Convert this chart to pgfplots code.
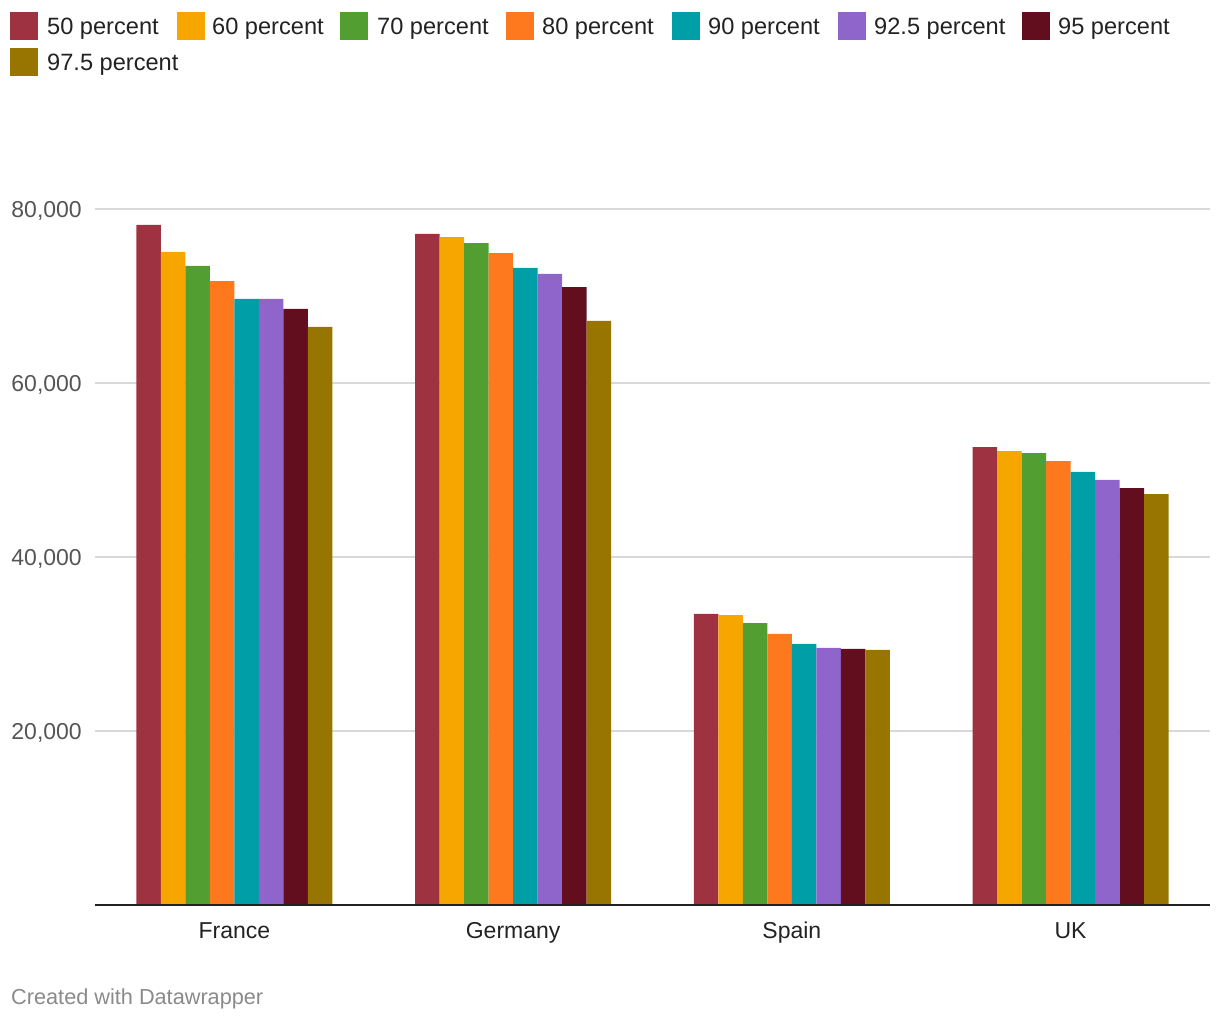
\documentclass[border=0pt]{standalone}
\usepackage{pgfplots}
\usepackage{pgfplotstable}
\pgfplotsset{compat=1.18}
\usepackage{fontspec}
\setmainfont{Liberation Sans}
\definecolor{cA}{RGB}{158,50,64}
\definecolor{cB}{RGB}{247,166,0}
\definecolor{cC}{RGB}{82,158,49}
\definecolor{cD}{RGB}{254,120,30}
\definecolor{cE}{RGB}{0,158,167}
\definecolor{cF}{RGB}{144,101,203}
\definecolor{cG}{RGB}{98,14,30}
\definecolor{cH}{RGB}{151,117,0}
\definecolor{gridgray}{RGB}{217,217,217}
\definecolor{ticklab}{RGB}{85,85,85}
\definecolor{txt}{RGB}{34,34,34}
\definecolor{foot}{RGB}{138,138,138}
\pgfplotstableread{
x p50 p60 p70 p80 p90 p925 p95 p975
0 78160 75060 73450 71700 69660 69660 68510 66440
1 77130 76780 76090 74940 73220 72530 71030 67130
2 33450 33330 32410 31150 30000 29540 29430 29310
3 52640 52180 51950 51030 49770 48850 47930 47240
}\datatable
\begin{document}
\begin{tikzpicture}
\path[use as bounding box] (0,0) rectangle (1220bp,1020bp);
\begin{axis}[
  at={(95bp,115bp)}, anchor=south west,
  scale only axis, width=1115bp, height=696bp,
  xmin=-0.5, xmax=3.5, ymin=0, ymax=80000,
  ybar=0pt, bar width=24.5bp,
  axis x line*=bottom, axis y line*=left,
  axis line style={draw=none},
  major tick length=0pt,
  xtick={0,1,2,3},
  xticklabels={France,Germany,Spain,UK},
  ytick={20000,40000,60000,80000},
  ymajorgrids,
  grid style={color=gridgray, line width=1.5bp},
  scaled y ticks=false,
  /pgf/number format/.cd, 1000 sep={,}, assume math mode=true,
  /pgfplots/.cd,
  xticklabel style={font=\fontsize{23bp}{27bp}\selectfont, color=txt, anchor=north, inner sep=0pt, yshift=-17bp},
  yticklabel style={font=\fontsize{23bp}{27bp}\selectfont, color=ticklab, anchor=base east, inner sep=0pt, xshift=-13bp, yshift=-8.3bp},
  clip=false,
]
\addplot[fill=cA, draw=none] table[x=x, y=p50] {\datatable};
\addplot[fill=cB, draw=none] table[x=x, y=p60] {\datatable};
\addplot[fill=cC, draw=none] table[x=x, y=p70] {\datatable};
\addplot[fill=cD, draw=none] table[x=x, y=p80] {\datatable};
\addplot[fill=cE, draw=none] table[x=x, y=p90] {\datatable};
\addplot[fill=cF, draw=none] table[x=x, y=p925] {\datatable};
\addplot[fill=cG, draw=none] table[x=x, y=p95] {\datatable};
\addplot[fill=cH, draw=none] table[x=x, y=p975] {\datatable};
\draw[color=txt, line width=2bp] (axis cs:-0.5,0) -- (axis cs:3.5,0);
\end{axis}
% legend
\def\legfont{\fontsize{23.6bp}{28bp}\selectfont}
\foreach \c/\sx/\tx/\ty/\lab in {cA/10/47/0/50 percent, cB/177/212/0/60 percent, cC/340/377/0/70 percent, cD/506/542/0/80 percent, cE/672/708/0/90 percent, cF/838/874/0/92.5 percent, cG/1022/1058/0/95 percent, cH/10/47/36/97.5 percent}{
  \fill[\c] (\sx bp, 1020bp-12bp-\ty bp) rectangle ++(28bp,-28bp);
  \node[anchor=base west, inner sep=0pt, text=txt, font=\legfont] at (\tx bp, 1020bp-34.5bp-\ty bp) {\lab};
}
\node[anchor=base west, inner sep=0pt, text=foot, font=\fontsize{21.7bp}{26bp}\selectfont] at (11bp,16bp) {Created with Datawrapper};
\end{tikzpicture}
\end{document}
